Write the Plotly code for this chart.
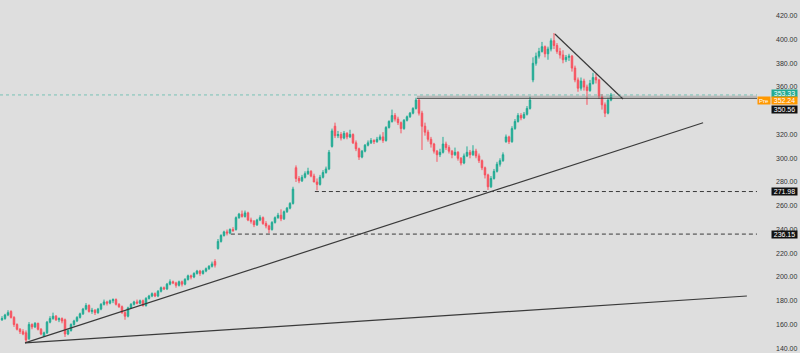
import plotly.graph_objects as go

opens = [164,165,168,171,166,160,156,154,153,148,
         160,158,161,156,150,153,162,165,167,164,
         165,164,152,155,160,163,166,169,173,176,
         171,172,170,173,177,179,178,180,181,177,
         175,170,167,174,177,179,178,180,176,182,
         184,186,184,188,191,190,194,196,195,193,
         196,194,198,201,200,203,205,203,205,207,
         209,213,224,230,235,238,237,240,240,250,
         253,251,254,248,247,244,248,250,245,243,
         240,246,250,252,249,255,258,262,292,283,
         281,284,287,289,285,280,278,284,288,291,
         310,327,319,320,317,321,318,320,313,308,
         301,306,311,313,315,314,316,318,315,326,
         331,336,333,330,325,332,335,338,342,349,
         338,327,322,316,312,306,303,305,312,309,
         306,303,305,300,296,302,305,303,306,302,
         298,292,286,276,283,289,295,298,314,318,
         314,325,331,336,334,337,342,366,380,386,
         390,394,388,392,399,395,390,387,383,385,
         386,376,366,359,365,360,357,363,368,366,
         352,345,338,349]
highs = [167,169,172,172,167,161,157,156,155,162,
         161,162,161.5,157,154,163,167,170,168,166,
         166,165,156,161,164,167,170,174,178,177,
         174,173,174,178,181,180,181,182,182,178,
         176,172,175,178,180,181,181,181,183,185,
         187,187,189,192,192,195,198,197,196,197,
         197,199,202,202,204,206,206,206,208,210,
         213,215,232,236,239,240,241,242,251,254,
         256,256,255,250,248,249,252,251,247,244,
         247,251,254,257,256,259,263,276,294,285,
         286,289,292,290,287,283,286,290,293,307,
         325,330,323,322,323,322,324,321,315,309,
         307,312,315,317,316,318,320,322,327,332,
         341,338,335,331,333,336,339,343,351,350,
         340,330,324,318,313,307,308,318,314,311,
         307,309,306,301,304,310,307,311,308,304,
         299,293,287,285,291,297,300,305,320,319,
         327,333,338,338,339,344,352,385,389,393,
         398,395,394,401,405.5,397,393,391,387,388,
         387,378,368,368,367,362,366,372,371,367,
         354,347,351,355]
lows = [163,164,167,165,158,155,152,151,144.5,147,
        156,157,155,151,149.5,152,161,164,163,162,
        161,149.5,151,154,159,162,165,168,172,170,
        169,168,169,172,176,176,177,178,176,174,
        169,164,166,173,176,177,177,175,175,181,
        183,183,183,187,189,189,193,194,191,192,
        192,193,197,198,199,202,201,202,204,206,
        208,208,223,229,234,235,236,238,239,249,
        250,250,247,245,242,243,247,244,241,237,
        239,245,249,247,248,254,257,261,280,279,
        280,283,286,284,280,273,277,283,287,290,
        309,317,317,315,316,316,317,312,306,298.6,
        300,305,310,312,312,313,315,313,314,325,
        330,331,328,321,324,331,334,337,341,336,
        307,319,314,309,304,297,301,304,307,304,
        300,302,298,294,295,301,300,302,300,296,
        290,283,273.3,275,282,288,293,297,313,312,
        313,324,330,332,333,336,341,364,378,384,
        389,385,383,390,392,388,384,380,381,382,
        373,364,356,357,357,345,356,362,363,350,
        341,334.7,337,348]
closes = [165,168,170,166,160,156,154,152,147,160,
          158,161,156,152,153,162,165,167,164,165,
          163,152,155,160,163,166,169,173,176,171,
          172,170,173,177,179,178,180,181,177,175,
          170,167,174,177,179,178,180,176,182,184,
          186,184,188,191,190,194,196,195,193,196,
          194,198,201,200,203,205,203,205,207,209,
          211,210,230,235,238,237,240,239,250,253,
          251,254,248,247,244,248,250,245,243,240,
          246,250,252,249,255,258,262,274,283,281,
          284,287,289,285,280,278,284,288,291,305,
          323,319,320,317,321,318,320,313,308,301,
          306,311,313,315,314,316,318,315,326,331,
          336,333,330,325,332,335,338,342,349,338,
          327,322,316,312,306,303,305,312,309,306,
          303,305,300,296,302,305,303,306,302,298,
          292,286,276,283,289,295,298,303,318,314,
          325,331,336,334,337,342,349,380,386,390,
          394,388,392,399,395,390,387,383,385,386,
          376,366,359,365,360,357,363,368,366,352,
          345,338,349,353.33]

bars = list(range(len(closes)))

# drawing anchors (bar index, price)
support_long = [(7.67, 144.5), (248.3, 184.0)]
support_rising = [(7.67, 144.5), (233.7, 329.9)]
resistance_falling = [(184.3, 404.7), (207.0, 349.9)]
ray_level = 350.56
ray_start = 138.3
dashed_levels = [(104.3, 271.98), (76.3, 236.15)]
last_price = 353.33
pre_price = 352.24

y_ticks = [140, 160, 180, 200, 220, 240, 260, 280, 300, 320, 360, 380, 400, 420]

x_min, x_max = -0.667, 251.67
y_min, y_max = 136.0, 433.3

fig = go.Figure()
fig.add_trace(go.Candlestick(
    x=bars, open=opens, high=highs, low=lows, close=closes,
    increasing=dict(line=dict(color="#22ab94", width=1), fillcolor="#22ab94"),
    decreasing=dict(line=dict(color="#f7525f", width=1), fillcolor="#f7525f"),
    whiskerwidth=0, showlegend=False, hoverinfo="skip"))

line_col = "#3a3a3a"
shapes = []
for seg in (support_long, support_rising, resistance_falling):
    (xa, ya), (xb, yb) = seg
    shapes.append(dict(type="line", xref="x", yref="y", x0=xa, y0=ya, x1=xb, y1=yb,
                       line=dict(color=line_col, width=1.2)))
shapes.append(dict(type="line", xref="x", yref="y", x0=x_min, y0=last_price, x1=x_max, y1=last_price,
                   line=dict(color="rgba(34,171,148,0.55)", width=1, dash="dot")))
shapes.append(dict(type="line", xref="x", yref="y", x0=ray_start, y0=pre_price, x1=x_max, y1=pre_price,
                   line=dict(color="rgba(150,150,150,0.7)", width=1)))
shapes.append(dict(type="line", xref="x", yref="y", x0=ray_start, y0=ray_level, x1=x_max, y1=ray_level,
                   line=dict(color=line_col, width=1.2)))
for xs, lvl in dashed_levels:
    shapes.append(dict(type="line", xref="x", yref="y", x0=xs, y0=lvl, x1=x_max, y1=lvl,
                       line=dict(color=line_col, width=1, dash="4px,3px")))

def price_to_paper(p):
    return (p - y_min) / (y_max - y_min)

labels = [("353.33", "#22ab94", "#ffffff", 0.7346),
          ("352.24", "#ff9800", "#ffffff", 0.7139),
          ("350.56", "#111111", "#ffffff", 0.6898),
          ("271.98", "#111111", "#ffffff", price_to_paper(271.98)),
          ("236.15", "#111111", "#ffffff", price_to_paper(236.15))]
annotations = []
for txt, bg, fg, yp in labels:
    annotations.append(dict(text=txt, xref="paper", yref="paper", x=0.9975, y=yp,
                            xanchor="right", yanchor="middle", showarrow=False,
                            bgcolor=bg, font=dict(color=fg, size=7, family="Liberation Sans"),
                            borderpad=0, width=25, height=7, align="center"))
annotations.append(dict(text="Pre", xref="paper", yref="paper", x=0.9635, y=0.7139,
                        xanchor="right", yanchor="middle", showarrow=False,
                        bgcolor="#ff9800", font=dict(color="#ffffff", size=6, family="Liberation Sans"),
                        borderpad=0, width=12, height=7, align="center"))

fig.update_layout(
    width=800, height=353,
    margin=dict(l=0, r=0, t=0, b=0),
    paper_bgcolor="#dedede", plot_bgcolor="#dedede",
    shapes=shapes, annotations=annotations,
    xaxis=dict(range=[x_min, x_max], domain=[0, 757 / 800], visible=False,
               rangeslider=dict(visible=False), fixedrange=True),
    yaxis=dict(range=[y_min, y_max], side="right", showgrid=False, zeroline=False,
               tickvals=y_ticks, ticktext=[f"{v:.2f}" for v in y_ticks],
               tickfont=dict(size=7, color="#333333", family="Liberation Sans"),
               ticks="", ticklabelstandoff=18, showline=False, fixedrange=True),
)

fig.write_html("out.html")
